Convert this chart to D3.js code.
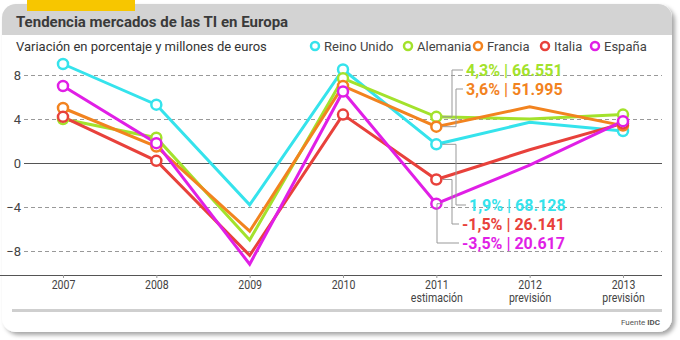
<!DOCTYPE html>
<html>
<head>
<meta charset="utf-8">
<script src="https://cdn.jsdelivr.net/npm/d3@7"></script>
<style>
  body { margin: 0; background: #fff; }
  svg text { font-family: Roboto, "DejaVu Sans", sans-serif; }
</style>
</head>
<body>
<div id="chart"></div>
<script>
// data
var years = ['2007', '2008', '2009', '2010', '2011', '2012', '2013'];
var subLabels = ['', '', '', '', 'estimación', 'previsión', 'previsión'];
var countries = ['Reino Unido', 'Alemania', 'Francia', 'Italia', 'España'];
var colors = ['#35e3ec', '#a3e22c', '#f2831f', '#e8413b', '#e01fe6'];
var reinoUnido = [9.0, 5.3, -3.8, 8.5, 1.7, 3.7, 2.9];
var alemania = [4.0, 2.3, -7.0, 7.7, 4.2, 4.0, 4.4];
var francia = [5.0, 1.5, -6.2, 7.0, 3.3, 5.1, 3.4];
var italia = [4.2, 0.2, -8.4, 4.4, -1.5, 1.2, 3.6];
var espana = [7.0, 1.8, -9.2, 6.5, -3.7, -0.2, 3.8];
var markerIdx = [0, 1, 3, 4, 6];
var yTicks = [8, 4, 0, -4, -8];
// 2011 notes, one per country (same order as countries)
var notes = ['1,9% | 68.128', '4,3% | 66.551', '3,6% | 51.995', '-1,5% | 26.141', '-3,5% | 20.617'];

var series = [reinoUnido, alemania, francia, italia, espana];

var W = 680, H = 340;
var svg = d3.select('#chart').append('svg').attr('width', W).attr('height', H);

// card + shadow
var defs = svg.append('defs');
var f = defs.append('filter').attr('id', 'sh').attr('x', '-5%').attr('y', '-5%').attr('width', '110%').attr('height', '115%');
f.append('feDropShadow').attr('dx', 3).attr('dy', 3).attr('stdDeviation', 2).attr('flood-color', '#000').attr('flood-opacity', 0.35);

svg.append('rect').attr('x', 2).attr('y', 4).attr('width', 670).attr('height', 328)
  .attr('rx', 14).attr('fill', '#fff').attr('filter', 'url(#sh)');

// header band
defs.append('clipPath').attr('id', 'cardclip').append('rect')
  .attr('x', 2).attr('y', 4).attr('width', 670).attr('height', 328).attr('rx', 14);
svg.append('rect').attr('x', 2).attr('y', 4).attr('width', 670).attr('height', 31)
  .attr('fill', '#d3d3d3').attr('clip-path', 'url(#cardclip)');
svg.append('rect').attr('x', 27).attr('y', 0).attr('width', 108).attr('height', 11).attr('fill', '#f7c600');

svg.append('text').attr('x', 16).attr('y', 27).attr('font-size', 15).attr('font-weight', 'bold')
  .attr('fill', '#3a3a3a').text('Tendencia mercados de las TI en Europa');
svg.append('text').attr('x', 16).attr('y', 51).attr('font-size', 13)
  .attr('fill', '#333').text('Variación en porcentaje y millones de euros');

// scales
var x = d3.scalePoint().domain(years).range([63, 623]);
var y = d3.scaleLinear().domain([-10, 10]).range([273, 53]);

// grid
var grid = svg.append('g');
grid.selectAll('line').data(yTicks).enter().append('line')
  .attr('x1', 24).attr('x2', 662)
  .attr('y1', function(d) { return y(d) + 0.5; }).attr('y2', function(d) { return y(d) + 0.5; })
  .attr('stroke', function(d) { return d === 0 ? '#555' : '#999'; })
  .attr('stroke-dasharray', function(d) { return d === 0 ? null : '4,3'; });

var yAxis = svg.append('g').attr('transform', 'translate(21,0)')
  .call(d3.axisLeft(y).tickValues(yTicks).tickSize(0).tickPadding(0).tickFormat(d3.format('d')));
yAxis.select('.domain').remove();
yAxis.selectAll('text').attr('font-size', 13).attr('fill', '#444');

// x axis
var xAxis = svg.append('g').attr('transform', 'translate(0,275)')
  .call(d3.axisBottom(x).tickSize(3).tickPadding(2).tickSizeOuter(0));
xAxis.select('.domain').attr('d', 'M0,0.5H662').attr('stroke', '#555');
xAxis.selectAll('.tick line').attr('stroke', '#999');
xAxis.selectAll('.tick text').attr('font-size', 12).attr('fill', '#444')
  .attr('transform', 'scale(0.88,1)')
  .each(function(d, i) {
    if (subLabels[i]) {
      d3.select(this).append('tspan').attr('x', 0).attr('dy', '1.15em').text(subLabels[i]);
    }
  });

// bottom bar + source
svg.append('rect').attr('x', 12).attr('y', 309).attr('width', 650).attr('height', 3).attr('fill', '#cfcfcf');
var src = svg.append('text').attr('x', 660).attr('y', 325).attr('text-anchor', 'end')
  .attr('font-size', 8).attr('fill', '#555');
src.append('tspan').text('Fuente ');
src.append('tspan').attr('font-weight', 'bold').text('IDC');

// lines
var line = d3.line().x(function(d, i) { return x(years[i]); }).y(function(d) { return y(d); });
var gLines = svg.append('g');
series.forEach(function(s, k) {
  gLines.append('path').datum(s).attr('d', line).attr('fill', 'none')
    .attr('stroke', colors[k]).attr('stroke-width', 3).attr('stroke-linejoin', 'miter');
});
series.forEach(function(s, k) {
  gLines.selectAll('.m' + k).data(markerIdx).enter().append('circle')
    .attr('cx', function(i) { return x(years[i]); }).attr('cy', function(i) { return y(s[i]); })
    .attr('r', 5).attr('fill', '#fff').attr('stroke', colors[k]).attr('stroke-width', 2.5);
});

// legend
var legX = [315, 408, 478, 545, 595];
var leg = svg.append('g');
countries.forEach(function(c, k) {
  leg.append('circle').attr('cx', legX[k]).attr('cy', 46).attr('r', 4)
    .attr('fill', '#fff').attr('stroke', colors[k]).attr('stroke-width', 2.5);
  leg.append('text').attr('x', legX[k] + 9).attr('y', 51).attr('font-size', 13)
    .attr('fill', '#444').text(c);
});

// annotations for 2011 (leader line elbow x, text y, text x) per country
var i11 = 4, px = x(years[i11]);
var noteLayout = [
  { vx: 456, ty: 205, tx: 469 },
  { vx: 452, ty: 70, tx: 466 },
  { vx: 456, ty: 89, tx: 466 },
  { vx: 452, ty: 224, tx: 462 },
  { vx: 437, ty: 243, tx: 462 }
];
var gNotes = svg.append('g');
series.forEach(function(s, k) {
  var L = noteLayout[k];
  var py = y(s[i11]);
  var pts = L.vx === px ? [[L.vx, py + 6], [L.vx, L.ty], [L.tx - 3, L.ty]]
    : [[px + 6, py], [L.vx, py], [L.vx, L.ty], [L.tx - 3, L.ty]];
  gNotes.append('path').attr('d', d3.line()(pts)).attr('fill', 'none')
    .attr('stroke', '#999').attr('stroke-width', 1);
  gNotes.append('text').attr('x', L.tx).attr('y', L.ty + 6).attr('font-size', 16)
    .attr('font-weight', 'bold').attr('fill', colors[k]).text(notes[k]);
});
</script>
</body>
</html>
